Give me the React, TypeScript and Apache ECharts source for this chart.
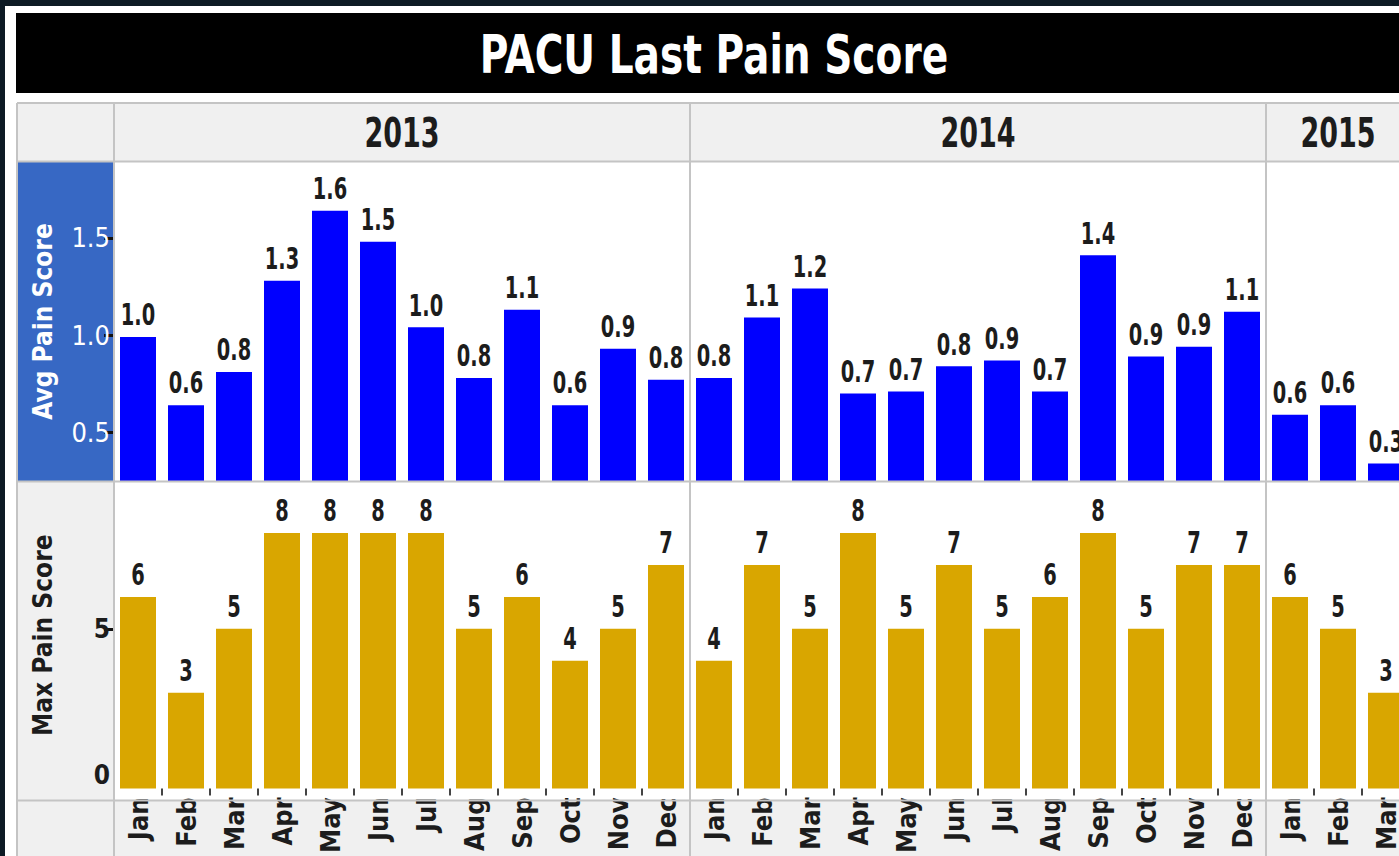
import React, { useEffect, useRef } from "react";
import * as echarts from "echarts";

// ---------- data ----------
const monthNames = ["Jan", "Feb", "Mar", "Apr", "May", "Jun", "Jul", "Aug", "Sep", "Oct", "Nov", "Dec"];
const years = ["2013", "2014", "2015"];
const monthsPerYear = [12, 12, 3];
const categories: string[] = years.flatMap((y, i) => monthNames.slice(0, monthsPerYear[i]).map((m) => `${y}-${m}`));

const avgPainScore = [
  0.99, 0.64, 0.81, 1.28, 1.64, 1.48, 1.04, 0.78, 1.13, 0.64, 0.93, 0.77,
  0.78, 1.09, 1.24, 0.70, 0.71, 0.84, 0.87, 0.71, 1.41, 0.89, 0.94, 1.12,
  0.59, 0.64, 0.34,
];
const maxPainScore = [
  6, 3, 5, 8, 8, 8, 8, 5, 6, 4, 5, 7,
  4, 7, 5, 8, 5, 7, 5, 6, 8, 5, 7, 7,
  6, 5, 3,
];
const avgTicks = [0.5, 1.0, 1.5];
const maxTicks = [0, 5];
const maxTickMarks = [5];

const TITLE = "PACU Last Pain Score";
const AVG_NAME = "Avg Pain Score";
const MAX_NAME = "Max Pain Score";

// ---------- layout ----------
const CW = 1420;
const CH = 856;
const GRID_LEFT = 114;
const GRID_RIGHT = 10;
const PLOT_W = CW - GRID_LEFT - GRID_RIGHT;
const TOP1 = 162;
const BOT1 = 481;
const TOP2 = 482;
const BOT2 = 800;
const FONT = '"Liberation Sans Narrow", "Arial Narrow", "DejaVu Sans Condensed", "Liberation Sans", sans-serif';
const LINE = "#c4c4c4";
const TEXT = "#1c1c1c";

function labelSeries(xi: number, values: number[], digits: number) {
  return {
    type: "custom",
    xAxisIndex: xi,
    yAxisIndex: xi,
    data: values.map((v, i) => [i, v]),
    clip: false,
    z: 5,
    silent: true,
    renderItem: (_p: any, api: any) => {
      const pt = api.coord([api.value(0), api.value(1)]);
      return {
        type: "text",
        x: pt[0],
        y: pt[1] - 7,
        scaleX: 0.72,
        style: {
          text: Number(api.value(1)).toFixed(digits),
          fill: TEXT,
          font: `bold 30px ${FONT}`,
          align: "center",
          verticalAlign: "bottom",
        },
      };
    },
  };
}

export default function App() {
  const ref = useRef<HTMLDivElement>(null);

  useEffect(() => {
    if (!ref.current) return;
    const chart = echarts.init(ref.current, null, { renderer: "svg" });
    const n = categories.length;
    const cw = PLOT_W / n;

    const graphics: any[] = [
      { type: "rect", z: -100, shape: { x: 0, y: 0, width: CW, height: CH }, style: { fill: "#0d1a24" }, silent: true },
      { type: "rect", z: -99, shape: { x: 5, y: 6, width: CW, height: CH }, style: { fill: "#ffffff" }, silent: true },
      { type: "rect", z: -98, shape: { x: 16, y: 13, width: CW, height: 80 }, style: { fill: "#000000" }, silent: true },
      { type: "rect", z: -98, shape: { x: 17, y: 103, width: CW, height: TOP1 - 103 }, style: { fill: "#f0f0f0" }, silent: true },
      { type: "rect", z: -98, shape: { x: 17, y: TOP1, width: GRID_LEFT - 17, height: BOT1 - TOP1 }, style: { fill: "#3768c4" }, silent: true },
      { type: "rect", z: -98, shape: { x: 17, y: TOP2, width: GRID_LEFT - 17, height: BOT2 - TOP2 }, style: { fill: "#f0f0f0" }, silent: true },
      { type: "rect", z: -98, shape: { x: 17, y: BOT2, width: CW, height: CH - BOT2 }, style: { fill: "#f0f0f0" }, silent: true },
      {
        type: "text", z: 50, x: (16 + CW - 8) / 2, y: 54, scaleX: 0.82,
        style: { text: TITLE, fill: "#ffffff", font: `bold 53px ${FONT}`, align: "center", verticalAlign: "middle" },
      },
    ];
    const hLines = [103, 161.5, BOT1 + 0.5, BOT2 + 0.5];
    hLines.forEach((y) =>
      graphics.push({ type: "line", z: 40, shape: { x1: 17, y1: y, x2: CW, y2: y }, style: { stroke: LINE, lineWidth: 2 }, silent: true })
    );
    const vLines = [17, GRID_LEFT];
    let start = 0;
    years.forEach((yr, i) => {
      const cnt = monthsPerYear[i];
      if (i > 0) vLines.push(GRID_LEFT + cw * start);
      graphics.push({
        type: "text", z: 50, x: GRID_LEFT + cw * (start + cnt / 2), y: 133, scaleX: 0.75,
        style: { text: yr, fill: TEXT, font: `bold 40px ${FONT}`, align: "center", verticalAlign: "middle" },
      });
      start += cnt;
    });
    vLines.forEach((x) =>
      graphics.push({ type: "line", z: 40, shape: { x1: x, y1: 103, x2: x, y2: CH }, style: { stroke: LINE, lineWidth: 2 }, silent: true })
    );

    const labelStyle = { fontFamily: FONT, fontWeight: "bold" as const, fontSize: 26, color: TEXT };

    chart.setOption({
      animation: false,
      graphic: graphics,
      grid: [
        { left: GRID_LEFT, right: GRID_RIGHT, top: TOP1, height: BOT1 - TOP1 },
        { left: GRID_LEFT, right: GRID_RIGHT, top: TOP2, height: BOT2 - TOP2 },
      ],
      xAxis: [
        {
          gridIndex: 0, type: "category", data: categories,
          axisLine: { show: false }, axisTick: { show: false }, axisLabel: { show: false },
        },
        {
          gridIndex: 1, type: "category", data: categories,
          axisLine: { show: false },
          axisTick: { show: true, length: 7, interval: (i: number) => i % 12 !== 0, lineStyle: { color: "#444", width: 2 } },
          axisLabel: {
            interval: 0, rotate: 90, margin: 9,
            formatter: (v: string) => v.split("-")[1],
            ...labelStyle, fontSize: 27,
          },
        },
      ],
      yAxis: [
        {
          gridIndex: 0, type: "value", min: 0.25, max: 1.89,
          axisLine: { show: false }, splitLine: { show: false },
          axisTick: { show: true, customValues: avgTicks, length: 10, lineStyle: { color: "#111", width: 3 } },
          axisLabel: { customValues: avgTicks, formatter: (v: number) => v.toFixed(1), color: "#ffffff", fontFamily: FONT, fontSize: 27, margin: 4 },
          name: AVG_NAME, nameLocation: "middle", nameRotate: 90, nameGap: 58,
          nameTextStyle: { color: "#ffffff", fontFamily: FONT, fontSize: 26, fontWeight: "bold" },
        },
        {
          gridIndex: 1, type: "value", min: 0, max: 9.6,
          axisLine: { show: false }, splitLine: { show: false },
          axisTick: { show: true, customValues: maxTickMarks, length: 10, lineStyle: { color: "#111", width: 3 } },
          axisLabel: { customValues: maxTicks, verticalAlignMinLabel: "bottom", ...labelStyle, margin: 4 },
          name: MAX_NAME, nameLocation: "middle", nameRotate: 90, nameGap: 58,
          nameTextStyle: { color: TEXT, fontFamily: FONT, fontSize: 26, fontWeight: "bold" },
        },
      ],
      series: [
        {
          type: "bar", xAxisIndex: 0, yAxisIndex: 0, data: avgPainScore, barCategoryGap: "25%",
          itemStyle: { color: "#0000ff" },
        },
        {
          type: "bar", xAxisIndex: 1, yAxisIndex: 1, data: maxPainScore, barCategoryGap: "25%",
          itemStyle: { color: "#d9a600" },
        },
        labelSeries(0, avgPainScore, 1),
        labelSeries(1, maxPainScore, 0),
      ],
    });
    return () => chart.dispose();
  }, []);

  return (
    <div style={{ position: "fixed", left: 0, top: 0, width: 1399, height: 856, overflow: "hidden", background: "#0d1a24" }}>
      <div ref={ref} style={{ width: CW, height: CH }} />
    </div>
  );
}
